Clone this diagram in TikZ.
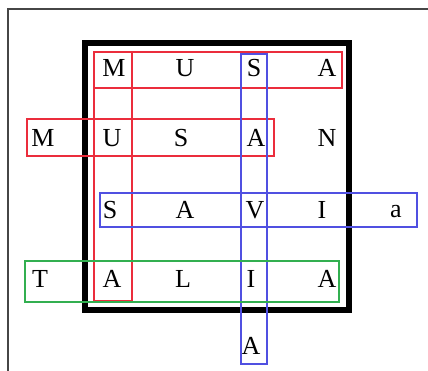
\documentclass[tikz,border=0pt]{standalone}
\usepackage{fontspec}
\setmainfont{Liberation Serif}
\definecolor{wred}{RGB}{235,45,60}
\definecolor{wblue}{RGB}{80,80,225}
\definecolor{wgreen}{RGB}{50,175,80}
\definecolor{framegray}{RGB}{70,70,70}
\begin{document}
\begin{tikzpicture}[x=1pt,y=-1pt,
  lt/.style={font=\fontsize{26}{30}\selectfont, inner sep=0pt, anchor=center},
  redbox/.style={draw=wred, line width=1.2pt},
  bluebox/.style={draw=wblue, line width=1.2pt},
  greenbox/.style={draw=wgreen, line width=1.2pt}]
\useasboundingbox (0,0) rectangle (428,371);
% outer frame
\draw[line width=1.2pt, framegray] (8,372) -- (8,9) -- (429,9);
% thick frame
\draw[line width=6pt] (85,43) rectangle (349,310);
% letters
\node[lt] (r1c1) at (114,68) {M};
\node[lt] (r1c2) at (185,68) {U};
\node[lt] (r1c3) at (254,68) {S};
\node[lt] (r1c4) at (327,68) {A};
\node[lt] (r2c0) at (43,138) {M};
\node[lt] (r2c1) at (112,138) {U};
\node[lt] (r2c2) at (181,138) {S};
\node[lt] (r2c3) at (256,138) {A};
\node[lt] (r2c4) at (327,138) {N};
\node[lt] (r3c1) at (110,210) {S};
\node[lt] (r3c2) at (185,210) {A};
\node[lt] (r3c3) at (255,210) {V};
\node[lt] (r3c4) at (322,210) {I};
\node[lt] (r3c5) at (396,212) {a};
\node[lt] (r4c0) at (40,279) {T};
\node[lt] (r4c1) at (112,279) {A};
\node[lt] (r4c2) at (183,279) {L};
\node[lt] (r4c3) at (251,279) {I};
\node[lt] (r4c4) at (327,279) {A};
\node[lt] (r5c3) at (251,346) {A};
% word boxes
\draw[redbox] (94,52) rectangle (342,88);
\draw[redbox] (94,52) rectangle (132,301);
\draw[redbox] (27,119) rectangle (274,156);
\draw[bluebox] (241,54) rectangle (267,364);
\draw[bluebox] (100,193) rectangle (417,227);
\draw[greenbox] (25,261) rectangle (339,302);
\end{tikzpicture}
\end{document}
